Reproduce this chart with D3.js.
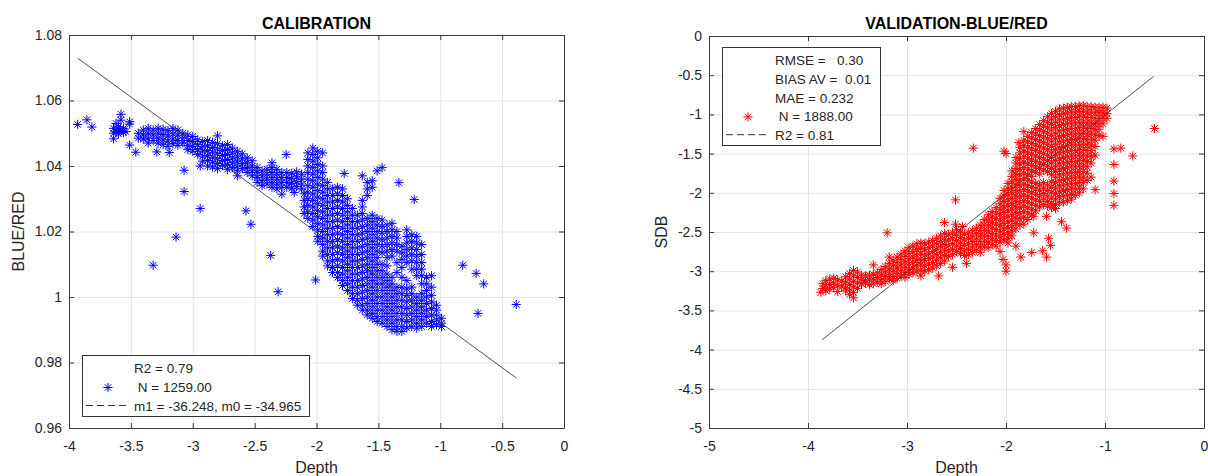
<!DOCTYPE html>
<html lang="en">
<head>
<meta charset="utf-8">
<title>Calibration / Validation BLUE/RED</title>
<script src="https://cdnjs.cloudflare.com/ajax/libs/d3/7.8.5/d3.min.js"></script>
<style>
    body { margin: 0; background: #fff; }
    svg text { font-family: "Liberation Sans", Arial, Helvetica, sans-serif; fill: #262626; }
    .tick text { font-size: 14px; }
    .ax path, .ax line { stroke: #3a3a3a; }
    .grid line { stroke: #e4e4e4; }
    .grid path { display: none; }
    .title { font-size: 16px; font-weight: bold; fill: #000; }
    .lab { font-size: 16px; }
    .leg text { font-size: 13.5px; white-space: pre; }
</style>
</head>
<body>
<svg id="fig" width="1208" height="476"></svg>
<script>
// ---- CALIBRATION (depth vs blue/red ratio) ----
var calXTicks = [-4, -3.5, -3, -2.5, -2, -1.5, -1, -0.5, 0];
var calYTicks = [0.96, 0.98, 1, 1.02, 1.04, 1.06, 1.08];
var calFitX = [-3.929, -0.386];
var calFitY = [1.0729, 0.9753];
var calLegend = ["R2 = 0.79", " N = 1259.00", "m1 = -36.248, m0 = -34.965"];
// [depth, [ratios...]]
var calCols = [
    [-3.93, [1.0527]], [-3.855, [1.0541]], [-3.815, [1.0519]],
    [-3.64, [1.0515, 1.0500, 1.0483]], [-3.62, [1.0530, 1.0505]],
    [-3.60, [1.0520, 1.0498, 1.0510]], [-3.58, [1.0558, 1.0540, 1.0508]],
    [-3.56, [1.0515, 1.0502]], [-3.54, [1.0505]], [-3.51, [1.0535, 1.0528, 1.0464]],
    [-3.46, [1.0442]], [-3.44, [1.0485, 1.0500]], [-3.40, [1.0495, 1.0510, 1.0482]],
    [-3.36, [1.0515, 1.0500, 1.0485, 1.0470]], [-3.32, [1.0510, 1.0495, 1.0478, 1.0097]],
    [-3.29, [1.0443]], [-3.28, [1.0515, 1.0500, 1.0485, 1.0470]],
    [-3.24, [1.0512, 1.0496, 1.0480, 1.0465]], [-3.20, [1.0508, 1.0492, 1.0476, 1.0460]],
    [-3.19, [1.0441]], [-3.16, [1.0514, 1.0498, 1.0482, 1.0468]], [-3.135, [1.0183]],
    [-3.12, [1.0510, 1.0494, 1.0478, 1.0463]], [-3.08, [1.0500, 1.0485, 1.0470]],
    [-3.07, [1.0387, 1.0322]], [-3.04, [1.0495, 1.0478, 1.0462, 1.0450]],
    [-3.00, [1.0490, 1.0475, 1.0460, 1.0445]], [-2.96, [1.0480, 1.0465, 1.0450, 1.0435]],
    [-2.94, [1.0400, 1.0270]], [-2.92, [1.0475, 1.0460, 1.0445, 1.0430, 1.0415]],
    [-2.88, [1.0478, 1.0462, 1.0447, 1.0432, 1.0417, 1.0400]],
    [-2.84, [1.0472, 1.0457, 1.0442, 1.0427, 1.0412, 1.0397]],
    [-2.80, [1.0492, 1.0468, 1.0452, 1.0437, 1.0422, 1.0407, 1.0392]],
    [-2.76, [1.0462, 1.0447, 1.0432, 1.0417, 1.0402]],
    [-2.72, [1.0466, 1.0450, 1.0435, 1.0420, 1.0405, 1.0390]],
    [-2.68, [1.0455, 1.0440, 1.0425, 1.0410, 1.0395]],
    [-2.64, [1.0445, 1.0430, 1.0415, 1.0400, 1.0385, 1.0370]],
    [-2.60, [1.0437, 1.0422, 1.0407, 1.0392]], [-2.57, [1.0263]],
    [-2.56, [1.0425, 1.0410, 1.0395, 1.0380]], [-2.53, [1.0222]],
    [-2.52, [1.0416, 1.0400, 1.0385, 1.0370]], [-2.48, [1.0395, 1.0380, 1.0365, 1.0350]],
    [-2.44, [1.0385, 1.0370, 1.0355, 1.0340]], [-2.40, [1.0390, 1.0375, 1.0360, 1.0345]],
    [-2.37, [1.0127]], [-2.36, [1.0410, 1.0395, 1.0380, 1.0365, 1.0350, 1.0335]],
    [-2.32, [1.0390, 1.0375, 1.0360, 1.0345, 1.0330]], [-2.31, [1.0016]],
    [-2.28, [1.0380, 1.0365, 1.0350, 1.0335, 1.0314]], [-2.245, [1.0435]],
    [-2.24, [1.0380, 1.0365, 1.0350, 1.0335]], [-2.20, [1.0378, 1.0362, 1.0347, 1.0332]],
    [-2.18, [1.0319]], [-2.16, [1.0382, 1.0367, 1.0352, 1.0337]],
    [-2.12, [1.0375, 1.0360, 1.0345, 1.0330]], [-2.10, [1.0315, 1.0295, 1.0275, 1.0255]],
    [-2.07, [1.0440, 1.0420, 1.0400, 1.0380, 1.0360, 1.0340, 1.0320, 1.0300, 1.0280, 1.0260, 1.0240]],
    [-2.03, [1.0455, 1.0435, 1.0415, 1.0395, 1.0375, 1.0355, 1.0335, 1.0315, 1.0295, 1.0275, 1.0255, 1.0235, 1.0215]],
    [-2.007, [1.0052]],
    [-1.99, [1.0445, 1.0425, 1.0405, 1.0385, 1.0365, 1.0345, 1.0325, 1.0305, 1.0285, 1.0265, 1.0245, 1.0225, 1.0205, 1.0185, 1.0170]],
    [-1.95, [1.0440, 1.0400, 1.0380, 1.0360, 1.0340, 1.0320, 1.0300, 1.0280, 1.0260, 1.0240, 1.0220, 1.0200, 1.0180, 1.0160, 1.0140, 1.0125]],
    [-1.91, [1.0350, 1.0330, 1.0310, 1.0290, 1.0270, 1.0250, 1.0230, 1.0210, 1.0190, 1.0170, 1.0150, 1.0130, 1.0110, 1.0095]],
    [-1.87, [1.0330, 1.0310, 1.0290, 1.0270, 1.0250, 1.0230, 1.0210, 1.0190, 1.0170, 1.0150, 1.0130, 1.0110, 1.0090, 1.0075]],
    [-1.83, [1.0335, 1.0315, 1.0295, 1.0275, 1.0255, 1.0235, 1.0215, 1.0195, 1.0175, 1.0155, 1.0135, 1.0115, 1.0095, 1.0075, 1.0060]],
    [-1.79, [1.0330, 1.0310, 1.0290, 1.0270, 1.0250, 1.0230, 1.0210, 1.0190, 1.0170, 1.0150, 1.0130, 1.0110, 1.0090, 1.0070, 1.0050, 1.0035]],
    [-1.776, [1.0377]],
    [-1.75, [1.0300, 1.0280, 1.0260, 1.0240, 1.0220, 1.0200, 1.0180, 1.0160, 1.0140, 1.0120, 1.0100, 1.0080, 1.0060, 1.0040, 1.0020]],
    [-1.71, [1.0270, 1.0250, 1.0230, 1.0210, 1.0190, 1.0170, 1.0150, 1.0130, 1.0110, 1.0090, 1.0070, 1.0050, 1.0030, 1.0010, 0.9995]],
    [-1.67, [1.0250, 1.0230, 1.0210, 1.0190, 1.0170, 1.0150, 1.0130, 1.0110, 1.0090, 1.0070, 1.0050, 1.0030, 1.0010, 0.9990, 0.9975]],
    [-1.63, [1.0370, 1.0295, 1.0275, 1.0255, 1.0235, 1.0215, 1.0195, 1.0175, 1.0155, 1.0135, 1.0115, 1.0095, 1.0075, 1.0055, 1.0035, 1.0015, 0.9995, 0.9975, 0.9960]],
    [-1.59, [1.0350, 1.0330, 1.0310, 1.0240, 1.0220, 1.0200, 1.0180, 1.0160, 1.0140, 1.0120, 1.0100, 1.0080, 1.0060, 1.0040, 1.0020, 1.0000, 0.9980, 0.9960, 0.9945]],
    [-1.55, [1.0355, 1.0335, 1.0250, 1.0230, 1.0210, 1.0190, 1.0170, 1.0150, 1.0130, 1.0110, 1.0090, 1.0070, 1.0050, 1.0030, 1.0010, 0.9990, 0.9970, 0.9950, 0.9935]],
    [-1.51, [1.0385, 1.0240, 1.0220, 1.0200, 1.0180, 1.0160, 1.0140, 1.0120, 1.0100, 1.0080, 1.0060, 1.0040, 1.0020, 1.0000, 0.9980, 0.9960, 0.9940, 0.9925]],
    [-1.47, [1.0395, 1.0235, 1.0215, 1.0195, 1.0175, 1.0155, 1.0135, 1.0100, 1.0080, 1.0060, 1.0040, 1.0020, 1.0000, 0.9980, 0.9960, 0.9940, 0.9920]],
    [-1.43, [1.0220, 1.0200, 1.0180, 1.0160, 1.0140, 1.0120, 1.0095, 1.0070, 1.0050, 1.0030, 1.0010, 0.9990, 0.9970, 0.9950, 0.9930, 0.9910]],
    [-1.39, [1.0225, 1.0205, 1.0185, 1.0165, 1.0145, 1.0125, 1.0060, 1.0040, 1.0020, 1.0000, 0.9980, 0.9960, 0.9940, 0.9920, 0.9900]],
    [-1.35, [1.0200, 1.0180, 1.0160, 1.0140, 1.0105, 1.0075, 1.0030, 1.0010, 0.9990, 0.9970, 0.9950, 0.9930, 0.9910, 0.9895]],
    [-1.334, [1.0349]],
    [-1.31, [1.0155, 1.0135, 1.0115, 1.0090, 1.0060, 1.0030, 1.0010, 0.9990, 0.9970, 0.9950, 0.9930, 0.9910, 0.9895]],
    [-1.27, [1.0205, 1.0185, 1.0165, 1.0145, 1.0125, 1.0105, 1.0050, 1.0025, 1.0005, 0.9985, 0.9965, 0.9945, 0.9925, 0.9905]],
    [-1.23, [1.0190, 1.0170, 1.0150, 1.0130, 1.0110, 1.0085, 1.0030, 1.0010, 0.9990, 0.9970, 0.9950, 0.9930, 0.9910]],
    [-1.21, [1.0298]],
    [-1.19, [1.0185, 1.0165, 1.0145, 1.0125, 1.0105, 1.0085, 1.0065, 1.0000, 0.9980, 0.9960, 0.9940, 0.9920, 0.9905]],
    [-1.15, [1.0160, 1.0130, 1.0105, 1.0085, 1.0065, 1.0040, 1.0010, 0.9990, 0.9970, 0.9950, 0.9930, 0.9910]],
    [-1.11, [1.0060, 1.0040, 1.0020, 1.0000, 0.9980, 0.9960, 0.9940, 0.9920]],
    [-1.07, [1.0065, 1.0030, 1.0005, 0.9985, 0.9965, 0.9945, 0.9925, 0.9910]],
    [-1.03, [0.9975, 0.9960, 0.9945, 0.9930, 0.9915]],
    [-0.99, [0.9935, 0.9920, 0.9910]],
    [-0.818, [1.0097]], [-0.71, [1.0072]], [-0.695, [0.9950]], [-0.649, [1.0040]], [-0.386, [0.9977]]
];

// ---- VALIDATION (depth vs SDB) ----
var valXTicks = [-5, -4, -3, -2, -1, 0];
var valYTicks = [-5, -4.5, -4, -3.5, -3, -2.5, -2, -1.5, -1, -0.5, 0];
var valFitX = [-3.857, -0.512];
var valFitY = [-3.874, -0.518];
var valLegend = ["RMSE =   0.30", "BIAS AV =  0.01", "MAE = 0.232", " N = 1888.00", "R2 = 0.81"];
var valCols = [
    [-3.87, [-3.27]], [-3.85, [-3.16, -3.22]], [-3.82, [-3.12, -3.19, -3.25]],
    [-3.78, [-3.10, -3.17, -3.23]], [-3.74, [-3.09, -3.15, -3.21]], [-3.70, [-3.11, -3.18, -3.26]],
    [-3.66, [-3.13, -3.19]], [-3.62, [-3.07, -3.14, -3.21, -3.25]],
    [-3.58, [-3.03, -3.10, -3.17, -3.24, -3.30]], [-3.54, [-2.99, -3.06, -3.13, -3.20, -3.27, -3.34]],
    [-3.50, [-3.01, -3.08, -3.15, -3.22]], [-3.46, [-3.05, -3.11, -3.16]],
    [-3.42, [-3.06, -3.12, -3.15]], [-3.38, [-3.05, -3.11, -3.17]],
    [-3.34, [-2.92, -3.04, -3.10, -3.16]], [-3.30, [-3.02, -3.08, -3.14]],
    [-3.26, [-2.98, -3.05, -3.11, -3.16]], [-3.22, [-2.94, -3.01, -3.07, -3.13]],
    [-3.20, [-2.51]], [-3.18, [-2.82, -2.90, -2.97, -3.04, -3.10]],
    [-3.14, [-2.86, -2.93, -3.00, -3.07, -3.12]], [-3.10, [-2.82, -2.89, -2.96, -3.03, -3.09]],
    [-3.06, [-2.78, -2.85, -2.92, -2.99, -3.06]], [-3.02, [-2.74, -2.81, -2.88, -2.95, -3.02, -3.08]],
    [-2.98, [-2.70, -2.77, -2.84, -2.91, -2.98, -3.04]], [-2.94, [-2.68, -2.75, -2.82, -2.89, -2.96, -3.02]],
    [-2.90, [-2.65, -2.72, -2.79, -2.86, -2.93, -3.00]], [-2.86, [-2.64, -2.71, -2.78, -2.85, -2.92, -2.99, -3.06]],
    [-2.82, [-2.65, -2.72, -2.79, -2.86, -2.93, -3.00]], [-2.78, [-2.63, -2.70, -2.77, -2.84, -2.91, -2.98]],
    [-2.74, [-2.61, -2.68, -2.75, -2.82, -2.89, -2.96]], [-2.70, [-2.58, -2.65, -2.72, -2.79, -2.86, -2.93]],
    [-2.68, [-3.06]], [-2.66, [-2.55, -2.62, -2.69, -2.76, -2.83, -2.90]],
    [-2.62, [-2.38, -2.52, -2.59, -2.66, -2.73, -2.80, -2.87]], [-2.58, [-2.53, -2.60, -2.67, -2.74, -2.81]],
    [-2.54, [-2.51, -2.58, -2.65, -2.72, -2.79, -2.95]], [-2.51, [-2.09, -2.40]],
    [-2.50, [-2.47, -2.54, -2.61, -2.68, -2.75]], [-2.46, [-2.50, -2.57, -2.64, -2.71, -2.77]],
    [-2.44, [-2.43]], [-2.42, [-2.53, -2.60, -2.67, -2.74, -2.80]], [-2.40, [-2.90]],
    [-2.38, [-2.51, -2.58, -2.65, -2.72, -2.79]], [-2.34, [-2.48, -2.55, -2.62, -2.69, -2.76]],
    [-2.33, [-1.43]], [-2.30, [-2.45, -2.52, -2.59, -2.66, -2.73]],
    [-2.26, [-2.41, -2.48, -2.55, -2.62, -2.69, -2.76]], [-2.22, [-2.34, -2.41, -2.48, -2.55, -2.62, -2.69]],
    [-2.18, [-2.28, -2.35, -2.42, -2.49, -2.56, -2.63, -2.70]], [-2.14, [-2.24, -2.31, -2.38, -2.45, -2.52, -2.59, -2.66]],
    [-2.10, [-2.19, -2.26, -2.33, -2.40, -2.47, -2.54, -2.61, -2.68]],
    [-2.06, [-2.07, -2.14, -2.21, -2.28, -2.35, -2.42, -2.49, -2.56, -2.63, -2.75]],
    [-2.03, [-2.85]],
    [-2.02, [-1.47, -1.97, -2.04, -2.11, -2.18, -2.25, -2.32, -2.39, -2.46, -2.53, -2.60]],
    [-2.00, [-1.50, -2.92, -3.00]],
    [-1.98, [-1.88, -1.95, -2.02, -2.09, -2.16, -2.23, -2.30, -2.37, -2.44, -2.51, -2.58, -2.64]],
    [-1.94, [-1.72, -1.79, -1.86, -1.93, -2.00, -2.07, -2.14, -2.21, -2.28, -2.35, -2.42, -2.49, -2.55]],
    [-1.90, [-1.55, -1.62, -1.69, -1.76, -1.83, -1.90, -1.97, -2.04, -2.11, -2.18, -2.25, -2.32, -2.39, -2.46, -2.68]],
    [-1.87, [-1.36]],
    [-1.86, [-1.42, -1.49, -1.56, -1.63, -1.70, -1.77, -1.84, -1.91, -1.98, -2.05, -2.12, -2.19, -2.26, -2.33, -2.41]],
    [-1.85, [-2.82]],
    [-1.82, [-1.22, -1.33, -1.40, -1.47, -1.54, -1.61, -1.68, -1.75, -1.82, -1.89, -1.96, -2.03, -2.10, -2.17, -2.24, -2.31, -2.40]],
    [-1.78, [-1.28, -1.35, -1.42, -1.49, -1.56, -1.63, -1.70, -1.77, -1.84, -1.91, -1.98, -2.05, -2.12, -2.19, -2.26, -2.34]],
    [-1.74, [-1.23, -1.30, -1.37, -1.44, -1.51, -1.58, -1.65, -1.72, -1.79, -1.86, -1.93, -2.00, -2.07, -2.14, -2.21, -2.28, -2.76]],
    [-1.72, [-2.30, -2.51]],
    [-1.70, [-1.18, -1.25, -1.32, -1.39, -1.46, -1.53, -1.60, -1.67, -1.74, -1.88, -1.95, -2.02, -2.09, -2.16, -2.23]],
    [-1.66, [-1.13, -1.20, -1.27, -1.34, -1.41, -1.48, -1.55, -1.62, -1.69, -1.76, -1.90, -1.97, -2.04, -2.11, -2.18]],
    [-1.63, [-2.74]],
    [-1.62, [-1.08, -1.15, -1.22, -1.29, -1.36, -1.43, -1.50, -1.57, -1.64, -1.71, -1.87, -1.94, -2.01, -2.08, -2.15]],
    [-1.59, [-2.30, -2.82]],
    [-1.58, [-1.03, -1.10, -1.17, -1.24, -1.31, -1.38, -1.45, -1.52, -1.59, -1.66, -1.73, -1.90, -1.97, -2.04, -2.11, -2.17]],
    [-1.57, [-2.58]], [-1.55, [-2.67]],
    [-1.54, [-0.99, -1.06, -1.13, -1.20, -1.27, -1.34, -1.41, -1.48, -1.55, -1.62, -1.69, -1.77, -1.86, -1.93, -2.00, -2.07, -2.14, -2.19]],
    [-1.50, [-0.96, -1.03, -1.10, -1.17, -1.24, -1.31, -1.38, -1.45, -1.52, -1.59, -1.66, -1.73, -1.80, -1.87, -1.94, -2.01, -2.08, -2.15, -2.20]],
    [-1.46, [-0.93, -1.00, -1.07, -1.14, -1.21, -1.28, -1.35, -1.42, -1.49, -1.56, -1.63, -1.70, -1.77, -1.84, -1.91, -1.98, -2.05, -2.12]],
    [-1.44, [-2.37]],
    [-1.42, [-0.92, -0.99, -1.06, -1.13, -1.20, -1.27, -1.34, -1.41, -1.48, -1.55, -1.62, -1.69, -1.76, -1.83, -1.90, -1.97, -2.04, -2.12]],
    [-1.39, [-2.45]],
    [-1.38, [-0.91, -0.98, -1.05, -1.12, -1.19, -1.26, -1.33, -1.40, -1.47, -1.54, -1.61, -1.68, -1.75, -1.82, -1.89, -1.96, -2.03, -2.10]],
    [-1.34, [-0.90, -0.97, -1.04, -1.11, -1.18, -1.25, -1.32, -1.39, -1.46, -1.53, -1.60, -1.67, -1.74, -1.81, -1.88, -1.95, -2.02, -2.08]],
    [-1.30, [-0.90, -0.97, -1.04, -1.11, -1.18, -1.25, -1.32, -1.39, -1.46, -1.53, -1.60, -1.67, -1.74, -1.81, -1.88, -1.95, -2.03]],
    [-1.26, [-0.89, -0.96, -1.03, -1.10, -1.17, -1.24, -1.31, -1.38, -1.45, -1.52, -1.59, -1.66, -1.73, -1.80, -1.87, -1.94, -2.00]],
    [-1.22, [-0.89, -0.96, -1.03, -1.10, -1.17, -1.24, -1.31, -1.38, -1.45, -1.52, -1.59, -1.66, -1.73, -1.80, -1.87, -1.95]],
    [-1.18, [-0.90, -0.97, -1.04, -1.11, -1.18, -1.25, -1.32, -1.39, -1.46, -1.53, -1.60, -1.67, -1.75, -1.84]],
    [-1.14, [-0.90, -0.97, -1.04, -1.11, -1.18, -1.25, -1.32, -1.39, -1.46, -1.54, -1.62, -1.80]],
    [-1.10, [-0.91, -0.98, -1.05, -1.12, -1.19, -1.26, -1.33, -1.41, -1.52, -1.96]],
    [-1.06, [-0.91, -0.98, -1.05, -1.12, -1.19, -1.27]],
    [-1.02, [-0.91, -0.98, -1.05, -1.12, -1.28]],
    [-0.98, [-0.92, -0.99, -1.05]],
    [-0.91, [-1.44, -1.64, -1.85, -2.01, -2.16]],
    [-0.84, [-1.43]], [-0.72, [-1.53]], [-0.50, [-1.18]]
];

var svg = d3.select("#fig");
svg.append("rect").attr("width", 1208).attr("height", 476).attr("fill", "#fff");

// matlab-like '*' marker (8 arms)
function star(r) {
    var d = r * 0.7071;
    return "M" + (-r) + ",0H" + r + "M0," + (-r) + "V" + r +
        "M" + (-d) + "," + (-d) + "L" + d + "," + d + "M" + (-d) + "," + d + "L" + d + "," + (-d);
}
var STAR = star(4.6);

function drawPanel(o) {
    var g = svg.append("g");
    var x = d3.scaleLinear().domain(d3.extent(o.xTicks)).range([o.left, o.right]);
    var y = d3.scaleLinear().domain(d3.extent(o.yTicks)).range([o.bottom, o.top]);
    var w = o.right - o.left, h = o.bottom - o.top;

    // grid
    g.append("g").attr("class", "grid").attr("transform", "translate(0," + o.bottom + ")")
        .call(d3.axisBottom(x).tickValues(o.xTicks).tickSize(-h).tickFormat(""));
    g.append("g").attr("class", "grid").attr("transform", "translate(" + o.left + ",0)")
        .call(d3.axisLeft(y).tickValues(o.yTicks).tickSize(-w).tickFormat(""));

    // points
    var pts = [];
    o.cols.forEach(function (c) {
        c[1].forEach(function (v) { pts.push([c[0], v]); });
    });
    g.append("g").selectAll("path").data(pts).join("path")
        .attr("d", STAR)
        .attr("transform", function (d) { return "translate(" + x(d[0]) + "," + y(d[1]) + ")"; })
        .attr("fill", "none").attr("stroke", o.color).attr("stroke-width", 1);

    // fit line
    var fit = o.fitX.map(function (v, i) { return [v, o.fitY[i]]; });
    g.append("path").datum(fit)
        .attr("d", d3.line().x(function (d) { return x(d[0]); }).y(function (d) { return y(d[1]); }))
        .attr("fill", "none").attr("stroke", "#3c3c3c").attr("stroke-width", 0.9);

    // box + inward ticks
    var fmt = function (v) { return String(v); };
    g.append("g").attr("class", "ax").attr("transform", "translate(0," + o.bottom + ")")
        .call(d3.axisBottom(x).tickValues(o.xTicks).tickSize(-5).tickSizeOuter(0).tickPadding(13).tickFormat(fmt));
    g.append("g").attr("class", "ax").attr("transform", "translate(0," + o.top + ")")
        .call(d3.axisTop(x).tickValues(o.xTicks).tickSize(-5).tickSizeOuter(0).tickFormat(""));
    g.append("g").attr("class", "ax").attr("transform", "translate(" + o.left + ",0)")
        .call(d3.axisLeft(y).tickValues(o.yTicks).tickSize(-5).tickSizeOuter(0).tickPadding(7).tickFormat(fmt));
    g.append("g").attr("class", "ax").attr("transform", "translate(" + o.right + ",0)")
        .call(d3.axisRight(y).tickValues(o.yTicks).tickSize(-5).tickSizeOuter(0).tickFormat(""));

    // labels
    var cx = (o.left + o.right) / 2, cy = (o.top + o.bottom) / 2;
    g.append("text").attr("class", "title").attr("x", cx).attr("y", 29)
        .attr("text-anchor", "middle").text(o.title);
    g.append("text").attr("class", "lab").attr("x", cx).attr("y", 473)
        .attr("text-anchor", "middle").text("Depth");
    g.append("text").attr("class", "lab").attr("text-anchor", "middle")
        .attr("transform", "translate(" + o.ylabX + "," + cy + ") rotate(-90)").text(o.ylab);

    // legend
    var L = o.leg, lg = g.append("g").attr("class", "leg");
    lg.append("rect").attr("x", L.x + 0.5).attr("y", L.y + 0.5).attr("width", L.w).attr("height", L.h)
        .attr("fill", "#fff").attr("stroke", "#333").attr("stroke-width", 1);
    o.legend.forEach(function (t, i) {
        var by = L.y0 + i * L.dy;
        lg.append("text").attr("x", L.tx).attr("y", by).text(t);
        if (i === L.markRow) {
            lg.append("path").attr("d", STAR).attr("fill", "none").attr("stroke", o.color)
                .attr("transform", "translate(" + (L.x + 26) + "," + (by - 4.5) + ")");
        }
        if (i === L.lineRow) {
            lg.append("line").attr("x1", L.x + 4).attr("x2", L.x + 46).attr("y1", by - 5.5).attr("y2", by - 5.5)
                .attr("stroke", "#333").attr("stroke-dasharray", "7,4");
        }
    });
}

drawPanel({
    left: 69, right: 564, top: 35, bottom: 428,
    xTicks: calXTicks, yTicks: calYTicks, cols: calCols, color: "#0000ff",
    fitX: calFitX, fitY: calFitY, title: "CALIBRATION", ylab: "BLUE/RED", ylabX: 24,
    legend: calLegend,
    leg: {x: 82, y: 355, w: 227, h: 61, tx: 134, y0: 373, dy: 19, markRow: 1, lineRow: 2}
});
drawPanel({
    left: 709, right: 1204, top: 36, bottom: 428,
    xTicks: valXTicks, yTicks: valYTicks, cols: valCols, color: "#ff0000",
    fitX: valFitX, fitY: valFitY, title: "VALIDATION-BLUE/RED", ylab: "SDB", ylabX: 667,
    legend: valLegend,
    leg: {x: 722, y: 47, w: 158, h: 98, tx: 775, y0: 65, dy: 18.8, markRow: 3, lineRow: 4}
});
</script>
</body>
</html>
